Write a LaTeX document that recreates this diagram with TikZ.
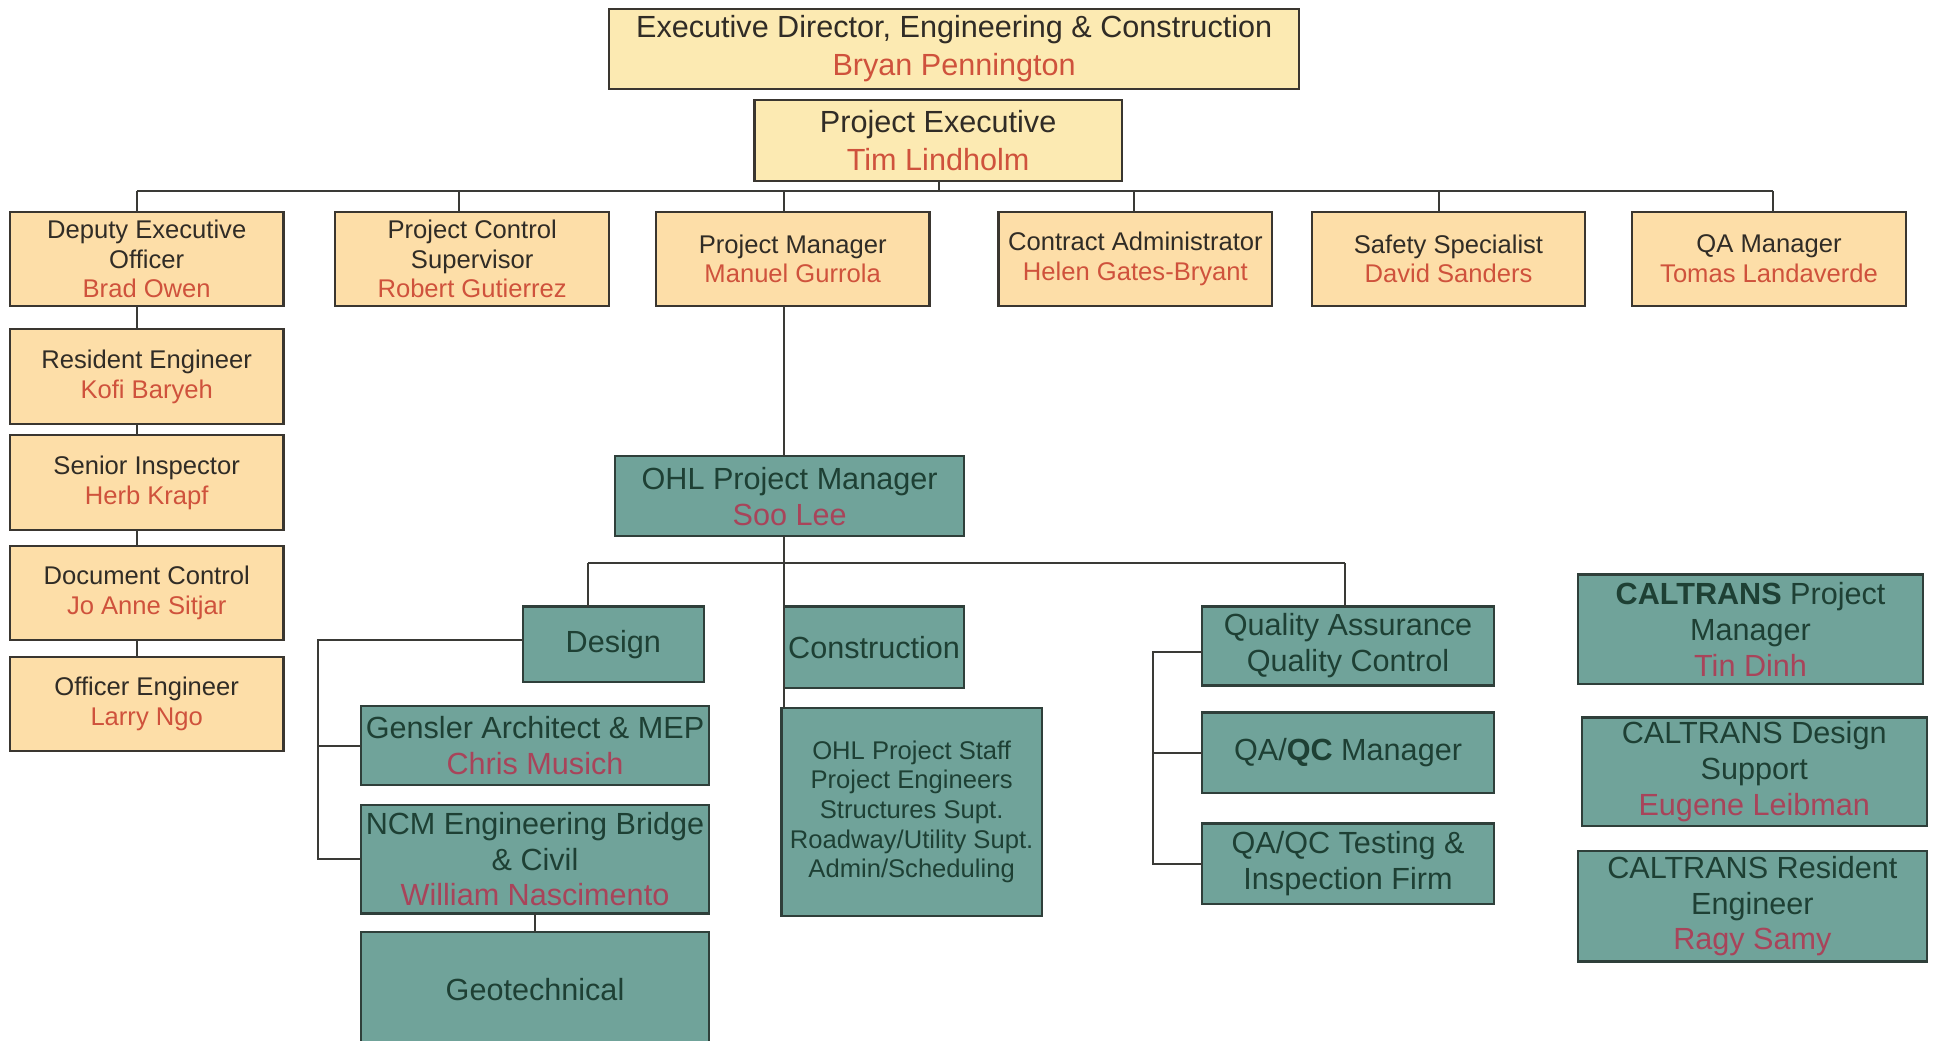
\documentclass[tikz,border=0pt]{standalone}
\usepackage{fontspec}
\setmainfont{Liberation Sans}
\definecolor{ylwtop}{HTML}{FCEAB2}
\definecolor{ylw}{HTML}{FDDEA8}
\definecolor{teal}{HTML}{70A39A}
\definecolor{boxline}{HTML}{3A3630}
\definecolor{tealline}{HTML}{2F3F3A}
\definecolor{ink}{HTML}{302C26}
\definecolor{tink}{HTML}{1E4034}
\definecolor{yname}{HTML}{CF523C}
\definecolor{tname}{HTML}{A8445A}
\definecolor{wire}{HTML}{3A3A36}

\newcommand\topf{\fontsize{15.3}{19.1}\selectfont}
\newcommand\bigf{\fontsize{15.3}{17.9}\selectfont}
\newcommand\smlf{\fontsize{12.8}{14.8}\selectfont}
\newcommand\ynm[1]{\textcolor{yname}{#1}}
\newcommand\tnm[1]{\textcolor{tname}{#1}}

% box from corner (x1,y1) to corner (x2,y2): name, style, x1, y1, x2, y2, text
\newcommand\orgbox[7]{%
  \node[#2, minimum width={(#5-#3)*0.6164pt}, minimum height={(#6-#4)*0.6164pt}]
    (#1) at ({(#3+#5)/2},{(#4+#6)/2}) {#7};}

\begin{document}
\begin{tikzpicture}[x=0.6164pt, y=-0.6164pt,
  box/.style={line width=1.1pt, inner sep=0pt, outer sep=0pt, align=center},
  topbox/.style={box, draw=boxline, fill=ylwtop, text=ink, font=\topf},
  ybox/.style={box, draw=boxline, fill=ylw, text=ink, font=\smlf},
  tbox/.style={box, draw=tealline, fill=teal, text=tink, font=\bigf},
  tsbox/.style={box, draw=tealline, fill=teal, text=tink, font=\smlf},
  wire/.style={draw=wire, line width=1pt}]

\useasboundingbox[fill=white] (0,0) rectangle (1568,844);

% executive level
\orgbox{ed}{topbox}{494}{7}{1054}{72}{Executive Director, Engineering \& Construction\\ \ynm{Bryan Pennington}}
\orgbox{pe}{topbox}{612}{81}{910}{147}{Project Executive\\ \ynm{Tim Lindholm}}

% direct reports
\orgbox{dep}{ybox}{8}{172}{230}{248}{Deputy Executive\\ Officer\\ \ynm{Brad Owen}}
\orgbox{pcs}{ybox}{272}{172}{494}{248}{Project Control\\ Supervisor\\ \ynm{Robert Gutierrez}}
\orgbox{pm}{ybox}{532}{172}{754}{248}{Project Manager\\ \ynm{Manuel Gurrola}}
\orgbox{ca}{ybox}{810}{172}{1032}{248}{Contract Administrator\\ \ynm{Helen Gates-Bryant}}
\orgbox{ss}{ybox}{1064}{172}{1286}{248}{Safety Specialist\\ \ynm{David Sanders}}
\orgbox{qam}{ybox}{1324}{172}{1546}{248}{QA Manager\\ \ynm{Tomas Landaverde}}

% left column under the deputy
\orgbox{re}{ybox}{8}{267}{230}{344}{Resident Engineer\\ \ynm{Kofi Baryeh}}
\orgbox{si}{ybox}{8}{353}{230}{430}{Senior Inspector\\ \ynm{Herb Krapf}}
\orgbox{dc}{ybox}{8}{443}{230}{519}{Document Control\\ \ynm{Jo Anne Sitjar}}
\orgbox{oe}{ybox}{8}{533}{230}{609}{Officer Engineer\\ \ynm{Larry Ngo}}

% contractor organisation
\orgbox{ohl}{tbox}{499}{370}{782}{435}{OHL Project Manager\\ \tnm{Soo Lee}}
\orgbox{des}{tbox}{424}{492}{571}{553}{Design}
\orgbox{con}{tbox}{636}{492}{782}{558}{Construction}
\orgbox{staff}{tsbox}{634}{574}{845}{743}{OHL Project Staff\\ Project Engineers\\ Structures Supt.\\ Roadway/Utility Supt.\\ Admin/Scheduling}
\orgbox{gen}{tbox}{293}{573}{575}{637}{Gensler Architect \& MEP\\ \tnm{Chris Musich}}
\orgbox{ncm}{tbox}{293}{653}{575}{741}{NCM Engineering Bridge\\ \& Civil\\ \tnm{William Nascimento}}
\orgbox{geo}{tbox}{293}{756}{575}{850}{Geotechnical}
\orgbox{qa1}{tbox}{975}{492}{1212}{556}{Quality Assurance\\ Quality Control}
\orgbox{qa2}{tbox}{975}{578}{1212}{643}{QA/\textbf{QC} Manager}
\orgbox{qa3}{tbox}{975}{668}{1212}{733}{QA/QC Testing \&\\ Inspection Firm}

% CALTRANS
\orgbox{ct1}{tbox}{1280}{466}{1560}{555}{\textbf{CALTRANS} Project\\ Manager\\ \tnm{Tin Dinh}}
\orgbox{ct2}{tbox}{1283}{582}{1563}{670}{CALTRANS Design\\ Support\\ \tnm{Eugene Leibman}}
\orgbox{ct3}{tbox}{1280}{690}{1563}{780}{CALTRANS Resident\\ Engineer\\ \tnm{Ragy Samy}}

% connector rails
\coordinate (bus) at (0,155);
\coordinate (bus2) at (0,457);
\coordinate (xdep) at (111,0);
\coordinate (xpcs) at (372,0);
\coordinate (xpm) at (636,0);
\coordinate (xca) at (920,0);
\coordinate (xss) at (1167,0);
\coordinate (xqam) at (1438,0);
\coordinate (xpe) at (762,0);
\coordinate (xdes) at (477,0);
\coordinate (xqa) at (1091,0);
\coordinate (xdrail) at (258,0);
\coordinate (xqrail) at (935,0);
\coordinate (xgeo) at (434,0);
\coordinate (yd) at (0,519);
\coordinate (yq) at (0,529);

% executive bus
\draw[wire] (pe.south -| xpe) -- (bus -| xpe);
\draw[wire] (bus -| xdep) -- (bus -| xqam);
\draw[wire] (bus -| xdep) -- (dep.north -| xdep);
\draw[wire] (bus -| xpcs) -- (pcs.north -| xpcs);
\draw[wire] (bus -| xpm) -- (pm.north -| xpm);
\draw[wire] (bus -| xca) -- (ca.north -| xca);
\draw[wire] (bus -| xss) -- (ss.north -| xss);
\draw[wire] (bus -| xqam) -- (qam.north -| xqam);

% deputy chain
\draw[wire] (dep.south -| xdep) -- (re.north -| xdep);
\draw[wire] (re.south -| xdep) -- (si.north -| xdep);
\draw[wire] (si.south -| xdep) -- (dc.north -| xdep);
\draw[wire] (dc.south -| xdep) -- (oe.north -| xdep);

% project manager to contractor
\draw[wire] (pm.south -| xpm) -- (ohl.north -| xpm);
\draw[wire] (ohl.south -| xpm) -- (staff.north -| xpm);
\draw[wire] (bus2 -| xdes) -- (bus2 -| xqa);
\draw[wire] (bus2 -| xdes) -- (des.north -| xdes);
\draw[wire] (bus2 -| xqa) -- (qa1.north -| xqa);

% design branch
\draw[wire] (des.west |- yd) -- (yd -| xdrail) -- (ncm.west -| xdrail) -- (ncm.west);
\draw[wire] (gen.west -| xdrail) -- (gen.west);
\draw[wire] (ncm.south -| xgeo) -- (geo.north -| xgeo);

% quality branch
\draw[wire] (qa1.west |- yq) -- (yq -| xqrail) -- (qa3.west -| xqrail) -- (qa3.west);
\draw[wire] (qa2.west -| xqrail) -- (qa2.west);

\end{tikzpicture}
\end{document}
